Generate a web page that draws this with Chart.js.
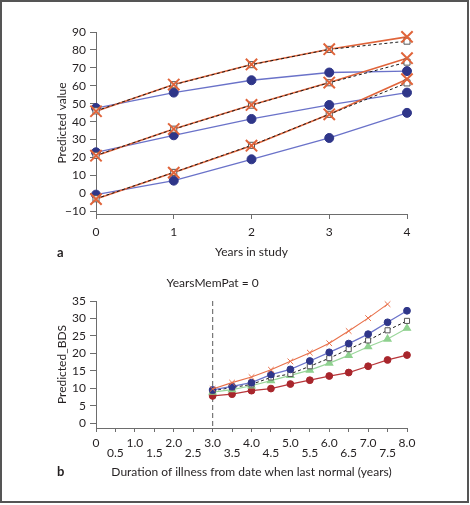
<!DOCTYPE html>
<html>
<head>
<meta charset="utf-8">
<script src="https://cdn.jsdelivr.net/npm/chart.js@4.4.1/dist/chart.umd.min.js"></script>
<style>
  body { margin: 0; background: #fff; }
  #frame { position: absolute; left: 0; top: 0; width: 465px; height: 499px; border: 2px solid #555; }
  .panel { position: absolute; left: 0; }
  .tag { position: absolute; font: bold 13px Lato, sans-serif; color: #231f20; }
</style>
</head>
<body>
<div id="frame"></div>
<div class="panel" style="top:0;width:470px;height:260px"><canvas id="chartA" width="470" height="260"></canvas></div>
<div class="panel" style="top:260px;width:470px;height:245px"><canvas id="chartB" width="470" height="245"></canvas></div>
<div class="tag" style="left:57px;top:244px">a</div>
<div class="tag" style="left:57px;top:463px">b</div>

<script>
// panel a data
const yearsA = [0, 1, 2, 3, 4];
const circlesHigh = [47.6, 56.2, 63.1, 67.4, 68.2];
const circlesMid  = [22.9, 32.4, 41.5, 49.3, 56.2];
const circlesLow  = [-0.7, 7.1, 19.0, 30.9, 44.9];
const crossHigh   = [45.8, 60.7, 71.9, 80.4, 87.3];
const crossMid    = [21.0, 35.9, 49.3, 61.8, 75.4];
const crossLow    = [-3.2, 11.6, 26.6, 44.1, 63.7];
const squareHigh  = [46.0, 60.6, 71.8, 80.3, 84.9];
const squareMid   = [21.2, 35.8, 49.2, 61.7, 73.2];
const squareLow   = [-3.0, 11.7, 26.8, 44.1, 61.6];

// panel b data
const durationB = [3.0, 3.5, 4.0, 4.5, 5.0, 5.5, 6.0, 6.5, 7.0, 7.5, 8.0];
const crossB    = [9.8, 11.6, 13.2, 15.3, 17.7, 20.2, 22.9, 26.4, 30.1, 34.1];
const blueB     = [9.5, 10.5, 11.6, 13.9, 15.4, 17.8, 20.3, 22.8, 25.5, 28.9, 32.2];
const squareB   = [9.3, 10.2, 11.1, 13.1, 14.1, 16.3, 18.6, 21.2, 23.7, 26.6, 29.3];
const greenB    = [8.9, 9.6, 10.7, 12.2, 13.7, 15.2, 17.2, 19.4, 21.9, 24.1, 27.2];
const redB      = [7.8, 8.3, 9.3, 9.9, 11.2, 12.3, 13.5, 14.5, 16.3, 18.1, 19.5];
const cutoffB = 3.0;
const titleB = 'YearsMemPat = 0';

const textColor = '#231f20';
const axisColor = '#6d6d6d';
Chart.defaults.font.family = 'Lato';
Chart.defaults.font.size = 12;
Chart.defaults.color = textColor;

function pts(xs, ys) {
  return ys.map((y, i) => ({ x: xs[i], y: y }));
}

function minusTick(v) {
  return v < 0 ? '\u2212' + Math.abs(v) : '' + v;
}

//dataset helpers
function circleLine(data, line, fill, r) {
  return { data: data, borderColor: line, borderWidth: 1.3, pointStyle: 'circle', pointRadius: r,
    pointBackgroundColor: fill, pointBorderColor: fill, pointBorderWidth: 1, clip: false };
}
function plainLine(data, color, w) {
  return { data: data, borderColor: color, borderWidth: w, pointRadius: 0, clip: false };
}
function squareLine(data, r) {
  return { data: data, borderColor: '#1a1a1a', borderWidth: 1, borderDash: [3, 2.5], pointStyle: 'rect',
    pointRadius: r, pointBackgroundColor: '#fff', pointBorderColor: '#555', pointBorderWidth: 1, clip: false };
}
function crossPoints(data, color, r, w) {
  return { data: data, showLine: false, pointStyle: 'crossRot', pointRadius: r,
    pointBorderColor: color, pointBorderWidth: w, clip: false };
}

const orange = '#e0643a';
const navy = '#2f3689';
const periwinkle = '#6a72c9';

new Chart(document.getElementById('chartA'), {
  type: 'line',
  data: {
    datasets: [
      crossPoints(pts(yearsA, crossHigh), orange, 8, 2),
      crossPoints(pts(yearsA, crossMid), orange, 8, 2),
      crossPoints(pts(yearsA, crossLow), orange, 8, 2),
      squareLine(pts(yearsA, squareHigh), 4.3),
      squareLine(pts(yearsA, squareMid), 4.3),
      squareLine(pts(yearsA, squareLow), 4.3),
      plainLine(pts(yearsA, crossHigh), orange, 1.6),
      plainLine(pts(yearsA, crossMid), orange, 1.6),
      plainLine(pts(yearsA, crossLow), orange, 1.6),
      circleLine(pts(yearsA, circlesHigh), periwinkle, navy, 4.5),
      circleLine(pts(yearsA, circlesMid), periwinkle, navy, 4.5),
      circleLine(pts(yearsA, circlesLow), periwinkle, navy, 4.5)
    ]
  },
  options: {
    responsive: false,
    animation: false,
    layout: { padding: { left: 0, right: 63, top: 32, bottom: 0 } },
    plugins: { legend: { display: false }, tooltip: { enabled: false } },
    scales: {
      x: {
        type: 'linear', min: 0, max: 4,
        ticks: { stepSize: 1, padding: 6 },
        grid: { drawOnChartArea: false, tickLength: 5, color: axisColor },
        border: { color: axisColor },
        title: { display: true, text: 'Years in study', padding: { top: 0, bottom: 1 } },
        afterFit: s => { s.height = 46; }
      },
      y: {
        min: -11.5, max: 90,
        ticks: { stepSize: 10, includeBounds: false, padding: 4, callback: minusTick },
        grid: { drawOnChartArea: false, tickLength: 6, color: axisColor },
        border: { color: axisColor },
        title: { display: true, text: 'Predicted value', padding: { top: 55, bottom: 0 } },
        afterFit: s => { s.width = 96; }
      }
    }
  }
});

//dashed line at 3.0 and title
const cutoffLine = {
  id: 'cutoffLine',
  beforeDatasetsDraw(chart) {
    const { ctx, chartArea, scales } = chart;
    const x = scales.x.getPixelForValue(cutoffB);
    ctx.save();
    ctx.strokeStyle = '#777';
    ctx.lineWidth = 1.2;
    ctx.setLineDash([5, 3]);
    ctx.beginPath();
    ctx.moveTo(x, chartArea.top);
    ctx.lineTo(x, chartArea.bottom);
    ctx.stroke();
    ctx.fillStyle = textColor;
    ctx.font = '12px Lato';
    ctx.textAlign = 'center';
    ctx.textBaseline = 'middle';
    ctx.fillText(titleB, x, chartArea.top - 18);
    ctx.restore();
  }
};

new Chart(document.getElementById('chartB'), {
  type: 'line',
  data: {
    datasets: [
      crossPoints(pts(durationB, crossB), '#e8704a', 4, 1),
      plainLine(pts(durationB, crossB), '#e8704a', 1.1),
      circleLine(pts(durationB, blueB), periwinkle, navy, 3.4),
      squareLine(pts(durationB, squareB), 3.6),
      { data: pts(durationB, greenB), borderColor: '#9ad69a', borderWidth: 1.2, pointStyle: 'triangle',
        pointRadius: 4, pointBackgroundColor: '#8fd18f', pointBorderColor: '#8fd18f', clip: false },
      circleLine(pts(durationB, redB), '#b8363a', '#a8262c', 3.4)
    ]
  },
  options: {
    responsive: false,
    animation: false,
    layout: { padding: { left: 0, right: 63, top: 41, bottom: 25 } },
    plugins: { legend: { display: false }, tooltip: { enabled: false } },
    scales: {
      x: {
        type: 'linear', min: 0, max: 8,
        ticks: {
          stepSize: 0.5, autoSkip: false, maxRotation: 0, padding: 6,
          font: { lineHeight: '10px' },
          callback: v => v === 0 ? '0' : (Number.isInteger(v) ? v.toFixed(1) : ['', v.toFixed(1)])
        },
        grid: { drawOnChartArea: false, tickLength: 4, color: axisColor },
        border: { color: axisColor },
        title: { display: true, text: 'Duration of illness from date when last normal (years)', padding: { top: 0, bottom: 1 } },
        afterFit: s => { s.height = 52; }
      },
      y: {
        min: -1.4, max: 35,
        ticks: { stepSize: 5, includeBounds: false, padding: 4 },
        grid: { drawOnChartArea: false, tickLength: 6, color: axisColor },
        border: { color: axisColor },
        title: { display: true, text: 'Predicted_BDS', padding: { top: 55, bottom: 0 } },
        afterFit: s => { s.width = 96; }
      }
    }
  },
  plugins: [cutoffLine]
});
</script>
</body>
</html>
